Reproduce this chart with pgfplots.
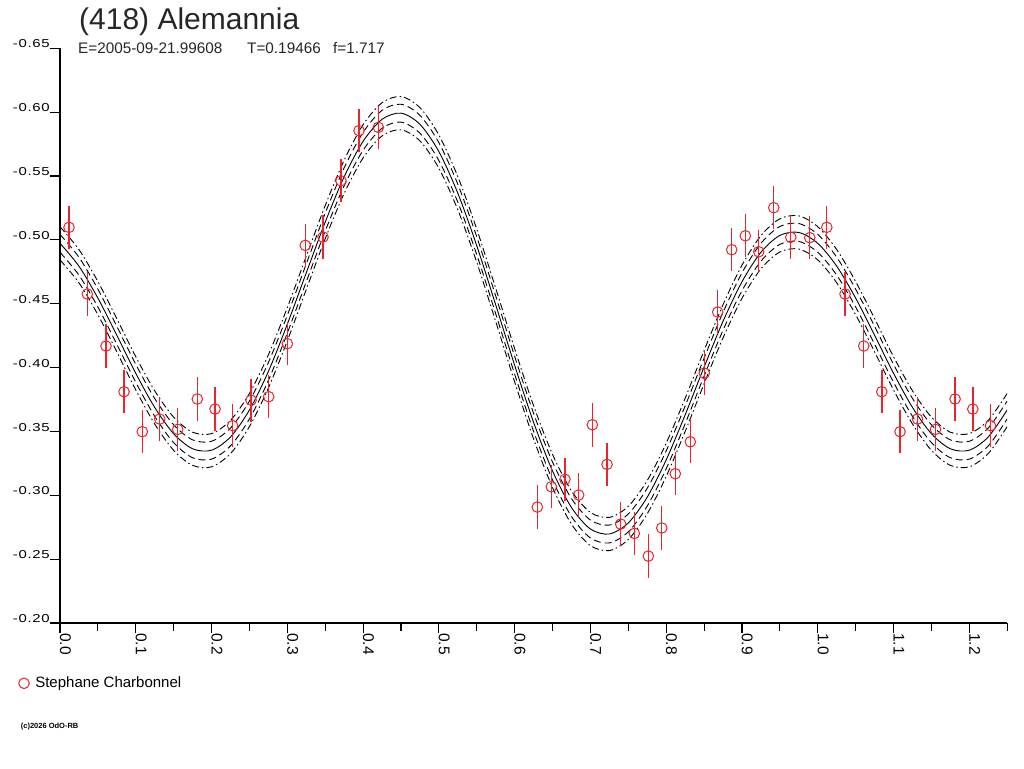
\documentclass[border=0pt]{standalone}
\usepackage{fontspec}
\setmainfont{Liberation Sans}
\newfontfamily\yfam[FakeStretch=1.3,LetterSpace=6]{Liberation Sans}
\usepackage{pgfplots}
\usepackage{pgfplotstable}
\pgfplotsset{compat=1.18}
\definecolor{mred}{RGB}{232,36,44}

\pgfplotstableread{
x c ua ub lb la
0.000 -0.4973 -0.5103 -0.5043 -0.4903 -0.4843
0.025 -0.4794 -0.4924 -0.4864 -0.4724 -0.4664
0.050 -0.4544 -0.4674 -0.4614 -0.4474 -0.4414
0.075 -0.4253 -0.4383 -0.4323 -0.4183 -0.4123
0.100 -0.3955 -0.4085 -0.4025 -0.3885 -0.3825
0.125 -0.3688 -0.3818 -0.3758 -0.3618 -0.3558
0.150 -0.3482 -0.3612 -0.3552 -0.3412 -0.3352
0.175 -0.3364 -0.3494 -0.3434 -0.3294 -0.3234
0.200 -0.3353 -0.3483 -0.3423 -0.3283 -0.3223
0.225 -0.3457 -0.3587 -0.3527 -0.3387 -0.3327
0.250 -0.3668 -0.3798 -0.3738 -0.3598 -0.3538
0.275 -0.3970 -0.4100 -0.4040 -0.3900 -0.3840
0.300 -0.4340 -0.4470 -0.4410 -0.4270 -0.4210
0.325 -0.4742 -0.4872 -0.4812 -0.4672 -0.4612
0.350 -0.5139 -0.5269 -0.5209 -0.5069 -0.5009
0.375 -0.5494 -0.5624 -0.5564 -0.5424 -0.5364
0.400 -0.5772 -0.5902 -0.5842 -0.5702 -0.5642
0.425 -0.5944 -0.6074 -0.6014 -0.5874 -0.5814
0.450 -0.5992 -0.6122 -0.6062 -0.5922 -0.5862
0.475 -0.5905 -0.6035 -0.5975 -0.5835 -0.5775
0.500 -0.5691 -0.5821 -0.5761 -0.5621 -0.5561
0.525 -0.5365 -0.5495 -0.5435 -0.5295 -0.5235
0.550 -0.4954 -0.5084 -0.5024 -0.4884 -0.4824
0.575 -0.4491 -0.4621 -0.4561 -0.4421 -0.4361
0.600 -0.4018 -0.4148 -0.4088 -0.3948 -0.3888
0.625 -0.3571 -0.3701 -0.3641 -0.3501 -0.3441
0.650 -0.3190 -0.3320 -0.3260 -0.3120 -0.3060
0.675 -0.2904 -0.3034 -0.2974 -0.2834 -0.2774
0.700 -0.2736 -0.2866 -0.2806 -0.2666 -0.2606
0.725 -0.2697 -0.2827 -0.2767 -0.2627 -0.2567
0.750 -0.2784 -0.2914 -0.2854 -0.2714 -0.2654
0.775 -0.2986 -0.3116 -0.3056 -0.2916 -0.2856
0.800 -0.3278 -0.3408 -0.3348 -0.3208 -0.3148
0.825 -0.3630 -0.3760 -0.3700 -0.3560 -0.3500
0.850 -0.4004 -0.4134 -0.4074 -0.3934 -0.3874
0.875 -0.4363 -0.4493 -0.4433 -0.4293 -0.4233
0.900 -0.4672 -0.4802 -0.4742 -0.4602 -0.4542
0.925 -0.4903 -0.5033 -0.4973 -0.4833 -0.4773
0.950 -0.5035 -0.5165 -0.5105 -0.4965 -0.4905
0.975 -0.5058 -0.5188 -0.5128 -0.4988 -0.4928
1.000 -0.4973 -0.5103 -0.5043 -0.4903 -0.4843
1.025 -0.4794 -0.4924 -0.4864 -0.4724 -0.4664
1.050 -0.4544 -0.4674 -0.4614 -0.4474 -0.4414
1.075 -0.4253 -0.4383 -0.4323 -0.4183 -0.4123
1.100 -0.3955 -0.4085 -0.4025 -0.3885 -0.3825
1.125 -0.3688 -0.3818 -0.3758 -0.3618 -0.3558
1.150 -0.3482 -0.3612 -0.3552 -0.3412 -0.3352
1.175 -0.3364 -0.3494 -0.3434 -0.3294 -0.3234
1.200 -0.3353 -0.3483 -0.3423 -0.3283 -0.3223
1.225 -0.3457 -0.3587 -0.3527 -0.3387 -0.3327
1.250 -0.3668 -0.3798 -0.3738 -0.3598 -0.3538
}\curve

\pgfplotstableread{
x y e
0.0119 -0.5098 0.017
0.0360 -0.4576 0.017
0.0607 -0.4169 0.017
0.0845 -0.3811 0.017
0.1086 -0.3498 0.017
0.1316 -0.3597 0.017
0.1553 -0.3516 0.017
0.1812 -0.3754 0.017
0.2046 -0.3675 0.017
0.2279 -0.3545 0.017
0.2521 -0.3744 0.017
0.2754 -0.3772 0.017
0.3000 -0.4187 0.017
0.3237 -0.4957 0.017
0.3471 -0.5022 0.017
0.3708 -0.5463 0.017
0.3946 -0.5855 0.017
0.4201 -0.5881 0.017
0.6299 -0.2908 0.017
0.6484 -0.3067 0.017
0.6664 -0.3125 0.017
0.6845 -0.3002 0.017
0.7025 -0.3552 0.017
0.7219 -0.3242 0.017
0.7399 -0.2775 0.017
0.7579 -0.2702 0.017
0.7764 -0.2524 0.017
0.7941 -0.2744 0.017
0.8120 -0.3169 0.017
0.8318 -0.3419 0.017
0.8503 -0.3957 0.017
0.8680 -0.4435 0.017
0.8864 -0.4923 0.017
0.9044 -0.5032 0.017
0.9221 -0.4907 0.017
0.9419 -0.5252 0.017
0.9644 -0.5020 0.017
0.9894 -0.5017 0.017
1.0119 -0.5098 0.017
1.0360 -0.4576 0.017
1.0607 -0.4169 0.017
1.0845 -0.3811 0.017
1.1086 -0.3498 0.017
1.1316 -0.3597 0.017
1.1553 -0.3516 0.017
1.1812 -0.3754 0.017
1.2046 -0.3675 0.017
1.2279 -0.3545 0.017
}\obs

\begin{document}
\begin{tikzpicture}
\useasboundingbox (0pt,0pt) rectangle (1024pt,768pt);
\begin{axis}[
  at={(60pt,145pt)}, anchor=south west,
  scale only axis, width=947.2pt, height=574.7pt,
  xmin=0, xmax=1.25, ymin=-0.65, ymax=-0.20,
  y dir=reverse,
  axis x line=bottom, axis y line=left,
  axis line style={-, line width=1.2pt, black},
  xtick={0,0.1,0.2,0.3,0.4,0.5,0.6,0.7,0.8,0.9,1.0,1.1,1.2},
  xticklabels={0.0,0.1,0.2,0.3,0.4,0.5,0.6,0.7,0.8,0.9,1.0,1.1,1.2},
  minor xtick={0.05,0.15,0.25,0.35,0.45,0.55,0.65,0.75,0.85,0.95,1.05,1.15,1.25},
  ytick={-0.65,-0.60,-0.55,-0.50,-0.45,-0.40,-0.35,-0.30,-0.25,-0.20},
  yticklabels={-0.65,-0.60,-0.55,-0.50,-0.45,-0.40,-0.35,-0.30,-0.25,-0.20},
  tick align=outside, major tick length=10pt, minor tick length=8pt,
  tick style={black, line width=1.2pt},
  xticklabel style={rotate=-90, anchor=base west, inner sep=0pt, font=\fontsize{15.5}{15.5}\selectfont},
  yticklabel style={anchor=south east, inner sep=0pt, font=\fontsize{11.5}{11.5}\yfam},
  legend style={at={(axis description cs:-0.0438,-0.1049)}, anchor=west, draw=none, fill=none,
    inner sep=0pt, font=\fontsize{15}{15}\selectfont, column sep=4pt},
  legend cell align=left,
  legend image code/.code={\draw[#1] plot coordinates {(0pt,0pt)};},
]
\addplot[black, line width=0.9pt, smooth, forget plot] table[x=x,y=c]{\curve};
\addplot[black, line width=0.9pt, smooth, forget plot, dash pattern=on 7pt off 4pt] table[x=x,y=ub]{\curve};
\addplot[black, line width=0.9pt, smooth, forget plot, dash pattern=on 7pt off 4pt] table[x=x,y=lb]{\curve};
\addplot[black, line width=0.9pt, smooth, forget plot, dash pattern=on 7pt off 3pt on 1.5pt off 3pt] table[x=x,y=ua]{\curve};
\addplot[black, line width=0.9pt, smooth, forget plot, dash pattern=on 7pt off 3pt on 1.5pt off 3pt] table[x=x,y=la]{\curve};
\addplot[only marks, mark=o, mark size=5.3pt, color=mred, mark options={line width=1pt},
  error bars/.cd, y dir=both, y explicit, error mark=none,
  error bar style={line width=1.4pt, color=mred}]
  table[x=x,y=y,y error=e]{\obs};
\addlegendentry{Stephane Charbonnel}
\end{axis}
\node[anchor=base west, inner sep=0pt, font=\fontsize{30}{30}\selectfont, text=black!85] at (79pt,738.7pt) {(418) Alemannia};
\node[anchor=base west, inner sep=0pt, font=\fontsize{15.3}{15.3}\selectfont, text=black!85] at (78pt,714pt) {E=2005-09-21.99608};
\node[anchor=base west, inner sep=0pt, font=\fontsize{15.3}{15.3}\selectfont, text=black!85] at (247pt,714pt) {T=0.19466};
\node[anchor=base west, inner sep=0pt, font=\fontsize{15.3}{15.3}\selectfont, text=black!85] at (333pt,714pt) {f=1.717};
\node[anchor=base west, inner sep=0pt, font=\fontsize{7.5}{7.5}\selectfont\bfseries] at (20.7pt,39.7pt) {(c)2026 OdO-RB};
\end{tikzpicture}
\end{document}
